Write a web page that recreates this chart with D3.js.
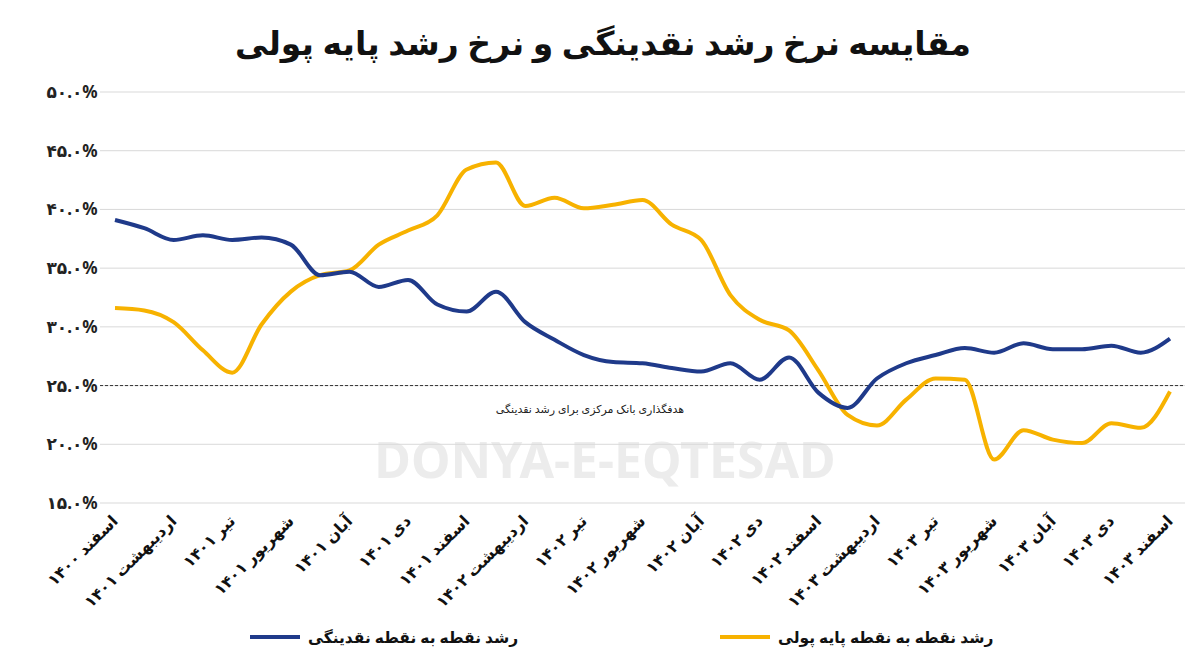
<!DOCTYPE html>
<html><head><meta charset="utf-8">
<script src="https://cdn.jsdelivr.net/npm/d3@7"></script>
<style>body{margin:0;background:#fff}text{font-family:"Noto Sans","DejaVu Sans",sans-serif}</style>
</head><body><svg id="c"></svg>
<script>
const months = ["اسفند ۱۴۰۰","فروردین ۱۴۰۱","اردیبهشت ۱۴۰۱","خرداد ۱۴۰۱","تیر ۱۴۰۱","مرداد ۱۴۰۱","شهریور ۱۴۰۱","مهر ۱۴۰۱","آبان ۱۴۰۱","آذر ۱۴۰۱","دی ۱۴۰۱","بهمن ۱۴۰۱","اسفند ۱۴۰۱",
"فروردین ۱۴۰۲","اردیبهشت ۱۴۰۲","خرداد ۱۴۰۲","تیر ۱۴۰۲","مرداد ۱۴۰۲","شهریور ۱۴۰۲","مهر ۱۴۰۲","آبان ۱۴۰۲","آذر ۱۴۰۲","دی ۱۴۰۲","بهمن ۱۴۰۲","اسفند ۱۴۰۲",
"فروردین ۱۴۰۳","اردیبهشت ۱۴۰۳","خرداد ۱۴۰۳","تیر ۱۴۰۳","مرداد ۱۴۰۳","شهریور ۱۴۰۳","مهر ۱۴۰۳","آبان ۱۴۰۳","آذر ۱۴۰۳","دی ۱۴۰۳","بهمن ۱۴۰۳","اسفند ۱۴۰۳"];
const liquidity = [39.1,38.4,37.4,37.8,37.4,37.6,37.0,34.4,34.7,33.4,34.0,31.9,31.3,33.0,30.4,28.9,27.6,27.0,26.9,26.5,26.2,26.9,25.5,27.4,24.4,23.1,25.6,26.9,27.6,28.2,27.8,28.6,28.1,28.1,28.4,27.8,29.0];
const baseMoney = [31.6,31.4,30.4,28.0,26.1,30.2,33.0,34.4,34.8,37.0,38.2,39.5,43.4,44.0,40.3,41.0,40.1,40.4,40.8,38.7,37.4,32.7,30.6,29.7,26.3,22.5,21.6,23.8,25.6,25.5,18.7,21.2,20.4,20.1,21.8,21.4,24.5];
const yTicks = [15,20,25,30,35,40,45,50];
const target = 25;

const fa = s => String(s).replace(/\d/g, d => "۰۱۲۳۴۵۶۷۸۹"[d]);
const W = 1200, H = 671;
const svg = d3.select("#c").attr("width", W).attr("height", H);
const x = d3.scalePoint().domain(d3.range(months.length)).range([115, 1170]);
const y = d3.scaleLinear().domain([15, 50]).range([503, 92]);

svg.append("text").attr("x", 603).attr("y", 55).attr("text-anchor", "middle")
  .attr("font-size", 33).attr("font-weight", "bold").attr("fill", "#111")
  .text("مقایسه نرخ رشد نقدینگی و نرخ رشد پایه پولی");

// watermark
svg.append("text").attr("x", 605).attr("y", 478).attr("text-anchor", "middle")
  .attr("font-size", 50).attr("font-weight", "bold").attr("fill", "#ececec")
  .text("DONYA-E-EQTESAD");

// grid + y labels
svg.append("g").selectAll("line").data(yTicks).join("line")
  .attr("x1", 100).attr("x2", 1185).attr("y1", d => y(d)).attr("y2", d => y(d))
  .attr("stroke", "#d9d9d9");
svg.append("g").selectAll("text").data(yTicks).join("text")
  .attr("x", 72).attr("y", d => y(d) + 6).attr("text-anchor", "middle")
  .attr("font-size", 17).attr("font-weight", "bold").attr("fill", "#222")
  .text(d => fa(d.toFixed(1)) + "%");

// target line
svg.append("line").attr("x1", 100).attr("x2", 1185).attr("y1", y(target)).attr("y2", y(target))
  .attr("stroke", "#333").attr("stroke-dasharray", "3,2");
svg.append("text").attr("x", 590).attr("y", y(target) + 27).attr("text-anchor", "middle")
  .attr("font-size", 11).attr("fill", "#222").text("هدفگذاری بانک مرکزی برای رشد نقدینگی");

// x labels every 2 months
svg.append("g").selectAll("text").data(d3.range(0, months.length, 2)).join("text")
  .attr("transform", i => `translate(${x(i) + 4},${522}) rotate(-45)`)
  .attr("direction", "rtl").attr("text-anchor", "start")
  .attr("font-size", 16).attr("font-weight", "bold").attr("fill", "#111")
  .text(i => months[i]);

const line = d3.line().x((d, i) => x(i)).y(d => y(d)).curve(d3.curveMonotoneX);
svg.append("path").datum(baseMoney).attr("d", line).attr("fill", "none")
  .attr("stroke", "#f7b200").attr("stroke-width", 4);
svg.append("path").datum(liquidity).attr("d", line).attr("fill", "none")
  .attr("stroke", "#1f3a8a").attr("stroke-width", 4);

// legend
const leg = [["رشد نقطه به نقطه نقدینگی", "#1f3a8a", 250], ["رشد نقطه به نقطه پایه پولی", "#f7b200", 720]];
leg.forEach(([t, c, lx]) => {
  svg.append("line").attr("x1", lx).attr("x2", lx + 50).attr("y1", 637).attr("y2", 637)
    .attr("stroke", c).attr("stroke-width", 4);
  svg.append("text").attr("x", lx + 58).attr("y", 643).attr("font-size", 15.5).attr("font-weight", "bold")
    .attr("fill", "#111").text(t);
});
</script></body></html>
